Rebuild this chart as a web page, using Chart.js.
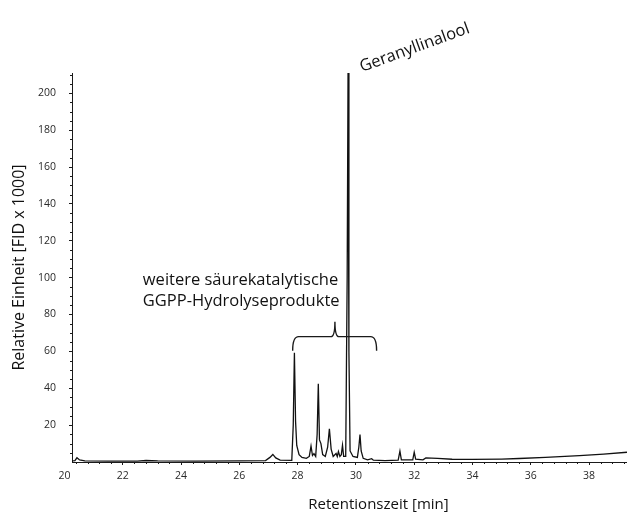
<!DOCTYPE html>
<html>
<head>
<meta charset="utf-8">
<script src="https://cdn.jsdelivr.net/npm/chart.js@4/dist/chart.umd.min.js"></script>
<style>
  html, body { margin: 0; padding: 0; background: #ffffff; }
  canvas { display: block; }
</style>
</head>
<body>
<canvas id="chart" width="627" height="516"></canvas>
<script>
// Gas chromatogram (FID) of the acid-catalysed GGPP hydrolysis products
const retentionTimes = [
  20.26, 20.36, 20.43, 20.52, 20.70, 21.50, 22.50, 22.80, 23.20, 24.50,
  26.00, 26.90, 27.05, 27.15, 27.25, 27.40, 27.80, 27.85, 27.89, 27.93,
  27.97, 28.05, 28.15, 28.30, 28.40, 28.46, 28.51, 28.56, 28.62, 28.67,
  28.71, 28.75, 28.80, 28.86, 28.95, 29.03, 29.09, 29.15, 29.22, 29.32,
  29.36, 29.40, 29.45, 29.50, 29.54, 29.58, 29.65, 29.70, 29.73, 29.76,
  29.80, 29.90, 30.05, 30.10, 30.14, 30.18, 30.25, 30.40, 30.54, 30.60,
  31.00, 31.45, 31.51, 31.56, 31.95, 32.00, 32.05, 32.30, 32.40, 32.80,
  33.30, 34.00, 35.00, 35.60, 36.50, 37.67, 38.50, 39.30
];
const signal = [
  0.6, 0.8, 2.3, 1.1, 0.6, 0.5, 0.5, 0.8, 0.6, 0.5,
  0.6, 0.8, 2.5, 4.1, 2.2, 1.0, 0.9, 20, 59.2, 22,
  9, 4, 2.5, 2, 3, 8.6, 3.5, 4.5, 3, 15,
  42.4, 12, 10, 4, 3, 8, 18, 7, 3, 4.6,
  3, 5.7, 3, 4, 9.1, 3, 3, 100, 211, 60,
  6, 3, 2.5, 8, 14.9, 6, 2, 1.2, 1.8, 1,
  0.8, 1, 5.9, 1.2, 1.2, 5.3, 1.5, 1.2, 2.2, 2,
  1.5, 1.4, 1.6, 1.9, 2.5, 3.5, 4.3, 5.3
];

const xTickValues = [20, 22, 24, 26, 28, 30, 32, 34, 36, 38];
const yTickValues = [20, 40, 60, 80, 100, 120, 140, 160, 180, 200];

const xTitle = 'Retentionszeit [min]';
const yTitle = 'Relative Einheit [FID x 1000]';
const peakName = 'Geranyllinalool';
const peakTime = 29.73;
const peakValue = 211;
const groupLines = ['weitere säurekatalytische', 'GGPP-Hydrolyseprodukte'];
const groupRange = [27.83, 30.71];     // retention-time span covered by the brace
const groupTip = 29.28;                // brace point
const braceLevels = [60.4, 68, 76.1];  // brace ends, bar, tip (FID x 1000)
const groupTextAnchor = [22.69, 98.3, 86.9]; // left edge time, line 1 level, line 2 level

const FONT = "'Open Sans', 'DejaVu Sans', sans-serif";
const AXIS_COLOR = '#1a1a1a';
const TEXT_COLOR = '#111';

// short ticks between the labelled ones, plus the free-standing labels
const decorations = {
  id: 'decorations',
  afterDraw(chart) {
    const { ctx } = chart;
    const x = chart.scales.x;
    const y = chart.scales.y;
    ctx.save();
    ctx.strokeStyle = AXIS_COLOR;
    ctx.lineWidth = 1;

    // minor ticks
    ctx.beginPath();
    for (let k = 1; k * 0.4 + 20 <= x.max; k++) {
      const v = 20 + k * 0.4;
      if (Math.abs(v / 2 - Math.round(v / 2)) < 1e-6 || v < x.min) continue;
      const px = Math.round(x.getPixelForValue(v)) + 0.5;
      ctx.moveTo(px, y.bottom);
      ctx.lineTo(px, y.bottom + 2);
    }
    for (let v = 5; v <= y.max; v += 5) {
      if (v % 20 === 0) continue;
      const py = Math.round(y.getPixelForValue(v)) + 0.5;
      ctx.moveTo(x.left, py);
      ctx.lineTo(x.left - 2, py);
    }
    ctx.stroke();

    // x axis title
    ctx.fillStyle = TEXT_COLOR;
    ctx.font = '15px ' + FONT;
    ctx.textAlign = 'center';
    ctx.textBaseline = 'middle';
    ctx.fillText(xTitle, (x.left + x.right) / 2 + 29, 505);

    // peak name, tilted
    const pxPeak = x.getPixelForValue(peakTime);
    const pyPeak = y.getPixelForValue(peakValue);
    ctx.save();
    ctx.translate(pxPeak + 14, pyPeak - 1);
    ctx.rotate(-20 * Math.PI / 180);
    ctx.font = '16.5px ' + FONT;
    ctx.textAlign = 'left';
    ctx.textBaseline = 'alphabetic';
    ctx.fillText(peakName, 0, 0);
    ctx.restore();

    // curly brace over the side products
    const L = x.getPixelForValue(groupRange[0]);
    const R = x.getPixelForValue(groupRange[1]);
    const C = x.getPixelForValue(groupTip);
    const yEnd = y.getPixelForValue(braceLevels[0]);
    const yBar = y.getPixelForValue(braceLevels[1]);
    const yTip = y.getPixelForValue(braceLevels[2]);
    ctx.beginPath();
    ctx.lineWidth = 1.4;
    ctx.moveTo(L, yEnd);
    ctx.quadraticCurveTo(L, yBar, L + 6, yBar);
    ctx.lineTo(C - 4, yBar);
    ctx.quadraticCurveTo(C, yBar, C, yTip);
    ctx.quadraticCurveTo(C, yBar, C + 4, yBar);
    ctx.lineTo(R - 6, yBar);
    ctx.quadraticCurveTo(R, yBar, R, yEnd);
    ctx.stroke();

    // description of the bracketed group
    ctx.font = '16.5px ' + FONT;
    ctx.textAlign = 'left';
    ctx.textBaseline = 'middle';
    const tx = x.getPixelForValue(groupTextAnchor[0]);
    ctx.fillText(groupLines[0], tx, y.getPixelForValue(groupTextAnchor[1]));
    ctx.fillText(groupLines[1], tx, y.getPixelForValue(groupTextAnchor[2]));
    ctx.restore();
  }
};

new Chart(document.getElementById('chart'), {
  type: 'line',
  data: {
    datasets: [{
      data: retentionTimes.map((t, i) => ({ x: t, y: signal[i] })),
      borderColor: '#111',
      borderWidth: 1.3,
      pointRadius: 0,
      tension: 0,
      fill: false
    }]
  },
  options: {
    responsive: false,
    animation: false,
    devicePixelRatio: 1,
    layout: { padding: { top: 73, right: 0, bottom: 0, left: 0 } },
    plugins: { legend: { display: false }, tooltip: { enabled: false } },
    scales: {
      x: {
        type: 'linear',
        min: 20.26,
        max: 39.3,
        afterBuildTicks: s => { s.ticks = xTickValues.map(v => ({ value: v })); },
        afterFit: s => { s.height = 54; s.paddingLeft = 0; s.paddingRight = 0; },
        grid: {
          display: true,
          drawOnChartArea: false,
          drawTicks: true,
          tickLength: 3,
          tickColor: c => (c.tick && c.tick.value < 20.2) ? 'rgba(0,0,0,0)' : AXIS_COLOR
        },
        border: { display: true, color: AXIS_COLOR, width: 1 },
        ticks: {
          autoSkip: false,
          maxRotation: 0,
          padding: 5,
          color: '#2a2a2a',
          font: { family: FONT, size: 10.5 },
          callback: v => String(v)
        }
      },
      y: {
        type: 'linear',
        min: 0,
        max: 211,
        afterBuildTicks: s => { s.ticks = yTickValues.map(v => ({ value: v })); },
        afterFit: s => { s.width = 72; s.paddingTop = 0; s.paddingBottom = 0; },
        grid: {
          display: true,
          drawOnChartArea: false,
          drawTicks: true,
          tickLength: 3,
          tickColor: AXIS_COLOR
        },
        border: { display: true, color: AXIS_COLOR, width: 1 },
        ticks: {
          padding: 13,
          color: '#2a2a2a',
          font: { family: FONT, size: 10.5 },
          callback: v => String(v)
        },
        title: {
          display: true,
          text: yTitle,
          color: TEXT_COLOR,
          font: { family: FONT, size: 16 },
          padding: { top: 10, bottom: 0 }
        }
      }
    }
  },
  plugins: [decorations]
});
</script>
</body>
</html>
